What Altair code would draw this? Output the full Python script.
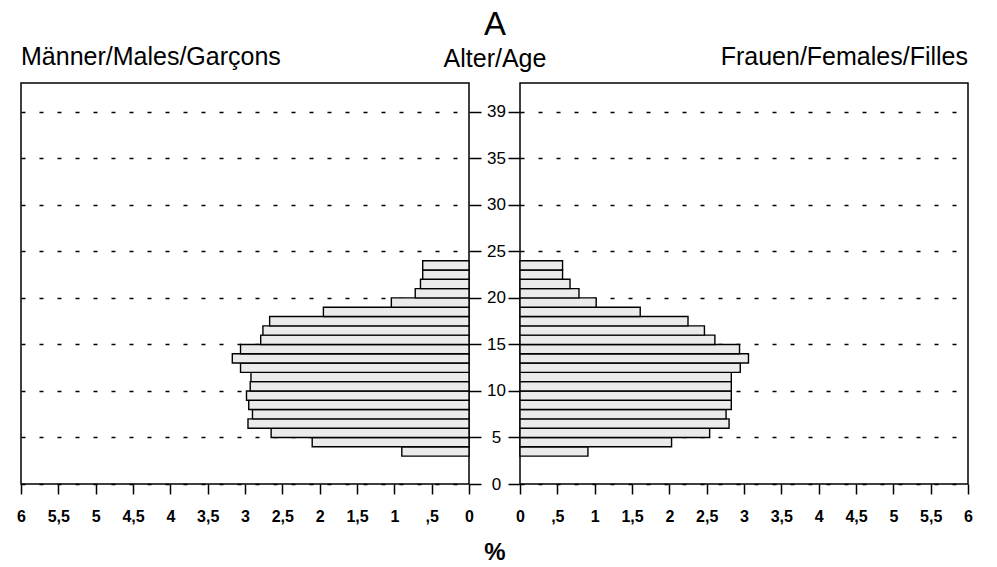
import altair as alt
import pandas as pd

# ---- data ----
ages = list(range(3, 24))
males = [0.90, 2.10, 2.65, 2.96, 2.90, 2.95, 2.98, 2.93, 2.92, 3.06, 3.17,
         3.06, 2.79, 2.76, 2.67, 1.95, 1.04, 0.72, 0.65, 0.62, 0.62]
females = [0.91, 2.03, 2.54, 2.80, 2.76, 2.83, 2.83, 2.83, 2.83, 2.95, 3.06,
           2.94, 2.61, 2.47, 2.25, 1.61, 1.02, 0.79, 0.67, 0.57, 0.57]

x_tick_values = [0, 0.5, 1, 1.5, 2, 2.5, 3, 3.5, 4, 4.5, 5, 5.5, 6]
x_tick_labels = ["0", ",5", "1", "1,5", "2", "2,5", "3", "3,5", "4", "4,5", "5", "5,5", "6"]
y_tick_values = [0, 5, 10, 15, 20, 25, 30, 35, 40]
y_tick_labels = ["0", "5", "10", "15", "20", "25", "30", "35", "39"]

title_main = ["A"]
title_left = ["Männer/Males/Garçons"]
title_mid = ["Alter/Age"]
title_right = ["Frauen/Females/Filles"]
x_title = ["%"]

df = pd.DataFrame({"age": ages, "male": males, "female": females})

FONT = "Liberation Sans"
W, H = 448, 401


def label_expr(values, labels):
    expr = "''"
    for v, l in reversed(list(zip(values, labels))):
        expr = f"datum.value == {v} ? '{l}' : ({expr})"
    return expr


def text_layer(texts, x, y, size, align, weight="normal"):
    return alt.Chart(pd.DataFrame({"t": texts})).mark_text(
        font=FONT, fontSize=size, fontWeight=weight, align=align,
        baseline="alphabetic", color="black",
    ).encode(text="t:N", x=alt.value(x), y=alt.value(y))


x_scale_left = alt.Scale(domain=[0, 6], reverse=True, nice=False)
x_scale_right = alt.Scale(domain=[0, 6], nice=False)
y_scale = alt.Scale(domain=[0, 43.1], nice=False, zero=False)

x_axis_common = dict(
    values=x_tick_values,
    labelExpr=label_expr(x_tick_values, x_tick_labels),
    tickSize=10, tickWidth=1.5, tickColor="black",
    grid=False, domain=False,
    labelFont=FONT, labelFontSize=16, labelFontWeight="bold", labelColor="black",
    labelPadding=14, labelFlush=False, labelOverlap=False, title=None,
)

grid_common = dict(
    grid=True, gridDash=[4, 14], gridColor="black", gridWidth=1.6,
    tickSize=12, tickWidth=1.5, tickColor="black", domain=False,
    values=y_tick_values, title=None,
)

bar_style = dict(fill="#ebebeb", stroke="black", strokeWidth=1.4)

left_bars = alt.Chart(df).transform_calculate(
    age_end="datum.age + 1"
).mark_rect(**bar_style).encode(
    x=alt.X("male:Q", scale=x_scale_left, axis=alt.Axis(**x_axis_common)),
    x2=alt.datum(0),
    y=alt.Y("age:Q", scale=y_scale, axis=alt.Axis(
        orient="right", **grid_common,
        labelExpr=label_expr(y_tick_values, y_tick_labels),
        labelAlign="center", labelBaseline="middle", labelPadding=15,
        labelFont=FONT, labelFontSize=17, labelColor="black",
    )),
    y2="age_end:Q",
)

left = alt.layer(
    left_bars,
    text_layer(title_main, 474, -48, 33, "center"),
    text_layer(title_left, 0, -18, 25, "left"),
    text_layer(title_mid, 474, -16, 25, "center"),
    text_layer(x_title, 474, H + 76, 24, "center", "bold"),
).properties(width=W, height=H)

right_bars = alt.Chart(df).transform_calculate(
    age_end="datum.age + 1"
).mark_rect(**bar_style).encode(
    x=alt.X("female:Q", scale=x_scale_right, axis=alt.Axis(**x_axis_common)),
    x2=alt.datum(0),
    y=alt.Y("age:Q", scale=y_scale, axis=alt.Axis(
        orient="left", **grid_common, labels=False,
    )),
    y2="age_end:Q",
)

right = alt.layer(
    right_bars,
    text_layer(title_right, W, -18, 25, "right"),
).properties(width=W, height=H)

chart = alt.hconcat(left, right, spacing=51, bounds="flush").properties(
    padding={"left": 7, "top": 0, "right": 5, "bottom": 2},
).configure_view(
    stroke="black", strokeWidth=1.5
)

chart.save("out.html", embed_options={"renderer": "svg", "actions": False})
